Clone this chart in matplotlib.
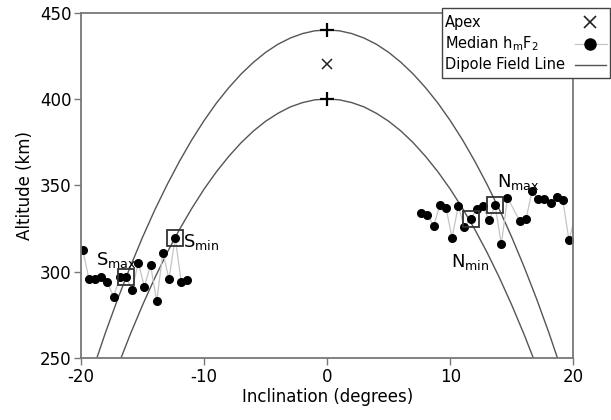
import matplotlib
matplotlib.use('Agg')
import matplotlib.pyplot as plt
from matplotlib.lines import Line2D
from matplotlib.patches import Rectangle

# dipole field lines (inclination in degrees, altitude in km)
incl_line = [-20, -19, -18, -17, -16, -15, -14, -13, -12, -11, -10, -9, -8, -7, -6, -5, -4, -3, -2, -1, 0,
             1, 2, 3, 4, 5, 6, 7, 8, 9, 10, 11, 12, 13, 14, 15, 16, 17, 18, 19, 20]
outer_line = [221.7, 243.9, 264.9, 284.5, 302.8, 319.9, 335.8, 350.4, 363.9, 376.3, 387.5, 397.6, 406.5,
              414.4, 421.2, 427.0, 431.7, 435.3, 437.9, 439.5, 440.0,
              439.5, 437.9, 435.3, 431.7, 427.0, 421.2, 414.4, 406.5, 397.6, 387.5, 376.3, 363.9, 350.4,
              335.8, 319.9, 302.8, 284.5, 264.9, 243.9, 221.7]
inner_line = [183.0, 205.1, 225.9, 245.4, 263.6, 280.6, 296.4, 311.0, 324.4, 336.6, 347.8, 357.8, 366.7,
              374.6, 381.4, 387.1, 391.7, 395.4, 397.9, 399.5, 400.0,
              399.5, 397.9, 395.4, 391.7, 387.1, 381.4, 374.6, 366.7, 357.8, 347.8, 336.6, 324.4, 311.0,
              296.4, 280.6, 263.6, 245.4, 225.9, 205.1, 183.0]

# median hmF2, southern group
incl_s = [-19.85, -19.35, -18.85, -18.35, -17.85, -17.35, -16.85, -16.35, -15.85, -15.35, -14.85,
          -14.35, -13.85, -13.35, -12.85, -12.35, -11.85, -11.35]
hmf2_s = [312.3, 295.6, 295.6, 296.9, 293.7, 285.4, 296.9, 296.9, 289.4, 305.2, 291.2,
          303.9, 282.7, 311.0, 295.6, 319.7, 293.7, 295.0]

# median hmF2, northern group (last one lies just past the axis edge)
incl_n = [7.65, 8.15, 8.65, 9.15, 9.65, 10.15, 10.65, 11.15, 11.65, 12.15, 12.65, 13.15, 13.65,
          14.15, 14.65, 15.65, 16.15, 16.65, 17.15, 17.65, 18.15, 18.65, 19.15, 19.65, 20.15]
hmf2_n = [334.1, 332.7, 326.4, 338.3, 337.0, 319.7, 337.9, 326.0, 330.6, 336.0, 337.9, 329.7, 338.3,
          315.8, 342.8, 329.3, 330.2, 346.6, 342.2, 342.2, 339.9, 343.1, 341.4, 318.1, 332.0]

# boxed points
box_labels = ['S$_{\\rm max}$', 'S$_{\\rm min}$', 'N$_{\\rm min}$', 'N$_{\\rm max}$']
box_incl = [-16.35, -12.35, 11.65, 13.65]
box_alt = [296.9, 319.7, 330.6, 338.3]
label_x = [-18.8, -11.7, 10.05, 13.8]
label_y = [303.8, 314.4, 302.8, 349.2]

apex_incl = [0]
apex_alt = [420]
top_incl = [0, 0]
top_alt = [440, 400]

legend_labels = ['Apex', 'Median h$_{\\rm m}$F$_2$', 'Dipole Field Line']

plt.rcParams['font.family'] = ['DejaVu Sans']
plt.rcParams['axes.unicode_minus'] = False

W, H = 611, 420
fig = plt.figure(figsize=(W / 100, H / 100), dpi=100)
ax = fig.add_axes([0.1326, 0.1479, 0.8057, 0.8219])

line_col = '#555555'
pt_line = '#c4c4c4'
ax.plot(incl_line, outer_line, color=line_col, lw=1.0)
ax.plot(incl_line, inner_line, color=line_col, lw=1.0)

ax.plot(incl_s, hmf2_s, color=pt_line, lw=0.9, marker='o', ms=5.5, mfc='black', mec='black')
ax.plot(incl_n, hmf2_n, color=pt_line, lw=0.9, marker='o', ms=5.5, mfc='black', mec='black',
        markevery=list(range(len(incl_n) - 1)))

ax.plot(box_incl, box_alt, ls='none', marker='s', ms=11, mfc='none', mec='#333333', mew=1.3)
for lab, lx, ly in zip(box_labels, label_x, label_y):
    ax.text(lx, ly, lab, fontsize=13, ha='left', va='baseline')

ax.plot(top_incl, top_alt, ls='none', marker='+', ms=10, color='black', mew=1.6)
ax.plot(apex_incl, apex_alt, ls='none', marker='x', ms=7, color='#222222', mew=1.1)

ax.set_xlim(-20, 20)
ax.set_ylim(250, 450)
ax.set_xticks([-20, -10, 0, 10, 20])
ax.set_yticks([250, 300, 350, 400, 450])
ax.set_xlabel('Inclination (degrees)', fontsize=12, labelpad=2)
ax.set_ylabel('Altitude (km)', fontsize=12, labelpad=4)
ax.tick_params(direction='out', length=5, width=1.0, color='#777777', labelsize=12, pad=2)
for sp in ax.spines.values():
    sp.set_color('#777777')
    sp.set_linewidth(1.3)

# legend drawn by hand: text on the left, keys on the right
def fx(px):
    return px / W

def fy(py):
    return 1 - py / H

fig.patches.append(Rectangle((fx(442), fy(78)), fx(610) - fx(442), fy(8) - fy(78),
                             transform=fig.transFigure, facecolor='white', edgecolor='#444444',
                             lw=1.0, zorder=5))
row_y = [22, 44, 65]
for lab, ry in zip(legend_labels, row_y):
    fig.text(fx(445), fy(ry), lab, fontsize=10.5, ha='left', va='center', zorder=6)
fig.add_artist(Line2D([fx(590)], [fy(row_y[0])], ls='none', marker='x', ms=9, color='#222222',
                      mew=1.2, transform=fig.transFigure, zorder=6))
fig.add_artist(Line2D([fx(575), fx(607)], [fy(row_y[1])] * 2, color=pt_line, lw=0.9,
                      transform=fig.transFigure, zorder=6))
fig.add_artist(Line2D([fx(590)], [fy(row_y[1])], ls='none', marker='o', ms=8, color='black',
                      transform=fig.transFigure, zorder=7))
fig.add_artist(Line2D([fx(575), fx(606)], [fy(row_y[2])] * 2, color=line_col, lw=1.0,
                      transform=fig.transFigure, zorder=6))

fig.savefig('out.png', dpi=100)
